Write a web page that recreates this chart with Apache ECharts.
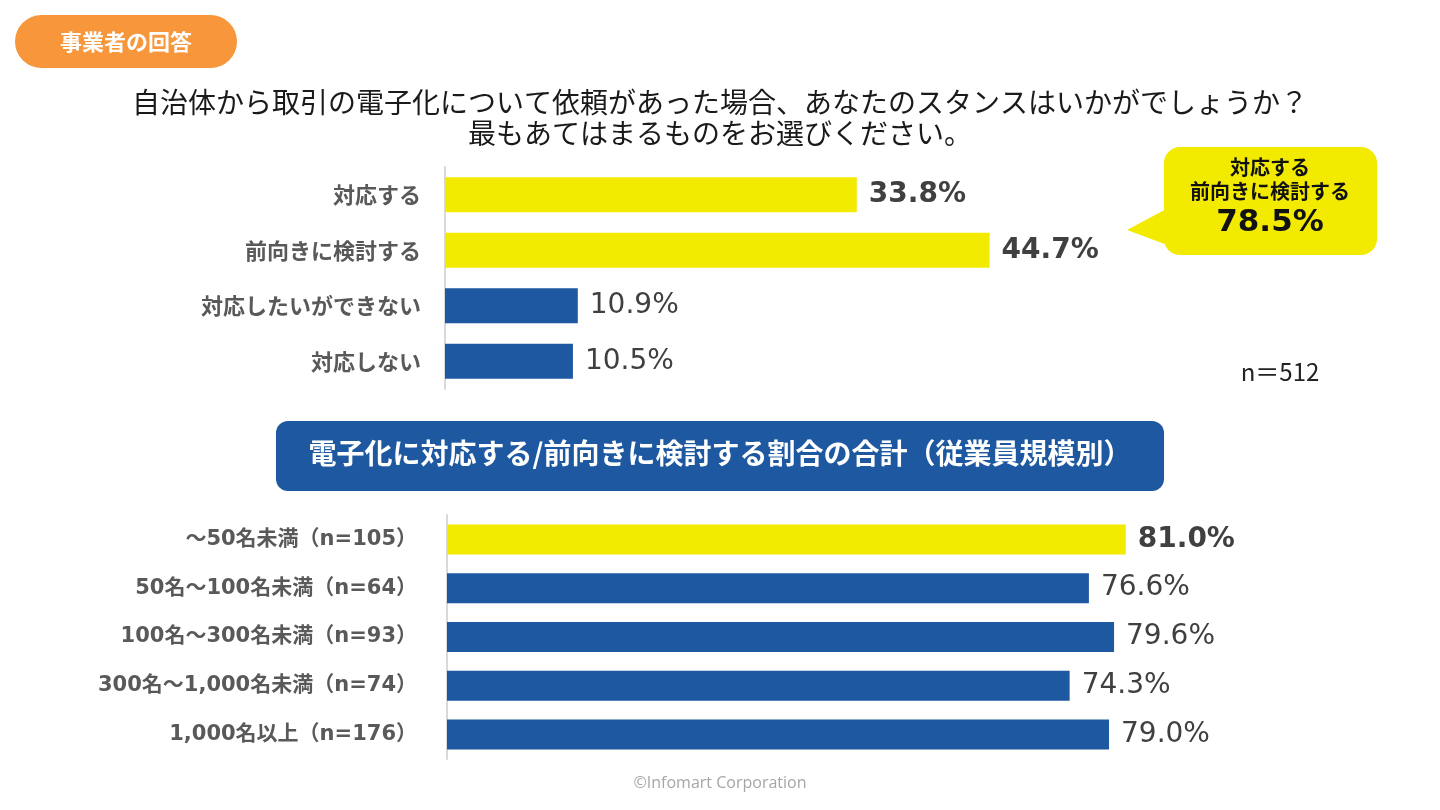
<!DOCTYPE html>
<html>
<head>
<meta charset="utf-8">
<script src="https://cdn.jsdelivr.net/npm/echarts@6/dist/echarts.min.js"></script>
<style>
html,body{margin:0;padding:0;background:#fff;}
#chart{width:1440px;height:810px;}
</style>
</head>
<body>
<div id="chart"></div>
<script>
// ---- data ----
const topCategories = ['対応する', '前向きに検討する', '対応したいができない', '対応しない'];
const topValues = [33.8, 44.7, 10.9, 10.5];
const topHighlight = [0, 1];
const sizeCategories = ['～50名未満（n=105）', '50名～100名未満（n=64）', '100名～300名未満（n=93）', '300名～1,000名未満（n=74）', '1,000名以上（n=176）'];
const sizeValues = [81.0, 76.6, 79.6, 74.3, 79.0];
const sizeHighlight = [0];
const calloutLines = ['対応する', '前向きに検討する'];
const calloutValue = '78.5%';
const sampleSize = 'n＝512';

const YELLOW = '#F2EB00';
const BLUE = '#1D58A0';
const LABEL = '#404040';
const CJK = '"Noto Sans CJK JP", "Noto Sans", sans-serif';
const NUM = '"DejaVu Sans", Verdana, sans-serif';
const MIX = '"DejaVu Sans", "Noto Sans CJK JP", sans-serif';

function buildData(values, hl) {
  return values.map((v, i) => {
    const on = hl.includes(i);
    return {
      value: v,
      itemStyle: { color: on ? YELLOW : BLUE },
      label: { fontWeight: on ? 'bold' : 'normal' }
    };
  });
}

const chart = echarts.init(document.getElementById('chart'), null, { renderer: 'canvas' });

const catLabelTop = { color: '#595959', fontSize: 22, fontWeight: 'bold', fontFamily: CJK, margin: 24 };
const catLabelBottom = { color: '#595959', fontSize: 21, fontWeight: 'bold', fontFamily: MIX, margin: 30 };

chart.setOption({
  animation: false,
  backgroundColor: '#fff',
  grid: [
    { left: 445, width: 731, top: 167, height: 222 },
    { left: 447, width: 838, top: 515, height: 244 }
  ],
  xAxis: [
    { gridIndex: 0, type: 'value', min: 0, max: 60, show: false },
    { gridIndex: 1, type: 'value', min: 0, max: 100, show: false }
  ],
  yAxis: [
    {
      gridIndex: 0, type: 'category', data: topCategories, inverse: true,
      axisLine: { show: true, lineStyle: { color: '#d9d9d9', width: 2 } },
      axisTick: { show: false }, axisLabel: catLabelTop
    },
    {
      gridIndex: 1, type: 'category', data: sizeCategories, inverse: true,
      axisLine: { show: true, lineStyle: { color: '#d9d9d9', width: 2 } },
      axisTick: { show: false }, axisLabel: catLabelBottom
    }
  ],
  series: [
    {
      type: 'bar', xAxisIndex: 0, yAxisIndex: 0, barWidth: 35,
      data: buildData(topValues, topHighlight),
      label: {
        show: true, position: 'right', distance: 12,
        formatter: p => p.value.toFixed(1) + '%',
        color: LABEL, fontSize: 28, fontFamily: NUM
      }
    },
    {
      type: 'bar', xAxisIndex: 1, yAxisIndex: 1, barWidth: 30,
      data: buildData(sizeValues, sizeHighlight),
      label: {
        show: true, position: 'right', distance: 12,
        formatter: p => p.value.toFixed(1) + '%',
        color: LABEL, fontSize: 28, fontFamily: NUM
      }
    }
  ],
  graphic: [
    // orange pill
    { type: 'rect', shape: { x: 15, y: 15, width: 222, height: 53, r: 26.5 }, style: { fill: '#F7963B' } },
    { type: 'text', x: 126, y: 42, style: { text: '事業者の回答', fill: '#fff', font: 'bold 22px ' + CJK, textAlign: 'center', textVerticalAlign: 'middle' } },
    // title
    { type: 'text', x: 720, y: 102, style: { text: '自治体から取引の電子化について依頼があった場合、あなたのスタンスはいかがでしょうか？', fill: '#1a1a1a', font: '28px ' + CJK, textAlign: 'center', textVerticalAlign: 'middle' } },
    { type: 'text', x: 720, y: 133, style: { text: '最もあてはまるものをお選びください。', fill: '#1a1a1a', font: '28px ' + CJK, textAlign: 'center', textVerticalAlign: 'middle' } },
    // callout
    { type: 'polygon', shape: { points: [[1170, 207], [1127, 230], [1170, 246]] }, style: { fill: YELLOW } },
    { type: 'rect', shape: { x: 1164, y: 147, width: 213, height: 108, r: 16 }, style: { fill: YELLOW } },
    { type: 'text', x: 1270, y: 167, style: { text: calloutLines[0], fill: '#111', font: 'bold 20px ' + CJK, textAlign: 'center', textVerticalAlign: 'middle' } },
    { type: 'text', x: 1270, y: 191, style: { text: calloutLines[1], fill: '#111', font: 'bold 20px ' + CJK, textAlign: 'center', textVerticalAlign: 'middle' } },
    { type: 'text', x: 1270, y: 223, style: { text: calloutValue, fill: '#111', font: 'bold 31px ' + NUM, textAlign: 'center', textVerticalAlign: 'middle' } },
    // n
    { type: 'text', x: 1280, y: 372, style: { text: sampleSize, fill: '#222', font: '24px ' + CJK, textAlign: 'center', textVerticalAlign: 'middle' } },
    // banner
    { type: 'rect', shape: { x: 276, y: 421, width: 888, height: 70, r: 12 }, style: { fill: BLUE } },
    { type: 'text', x: 720, y: 453, style: { text: '電子化に対応する/前向きに検討する割合の合計（従業員規模別）', fill: '#fff', font: 'bold 28px ' + CJK, textAlign: 'center', textVerticalAlign: 'middle' } },
    // footer
    { type: 'text', x: 720, y: 783, style: { text: '©Infomart Corporation', fill: '#a6a6a6', font: '16px "Open Sans", sans-serif', textAlign: 'center', textVerticalAlign: 'middle' } }
  ]
});
</script>
</body>
</html>
